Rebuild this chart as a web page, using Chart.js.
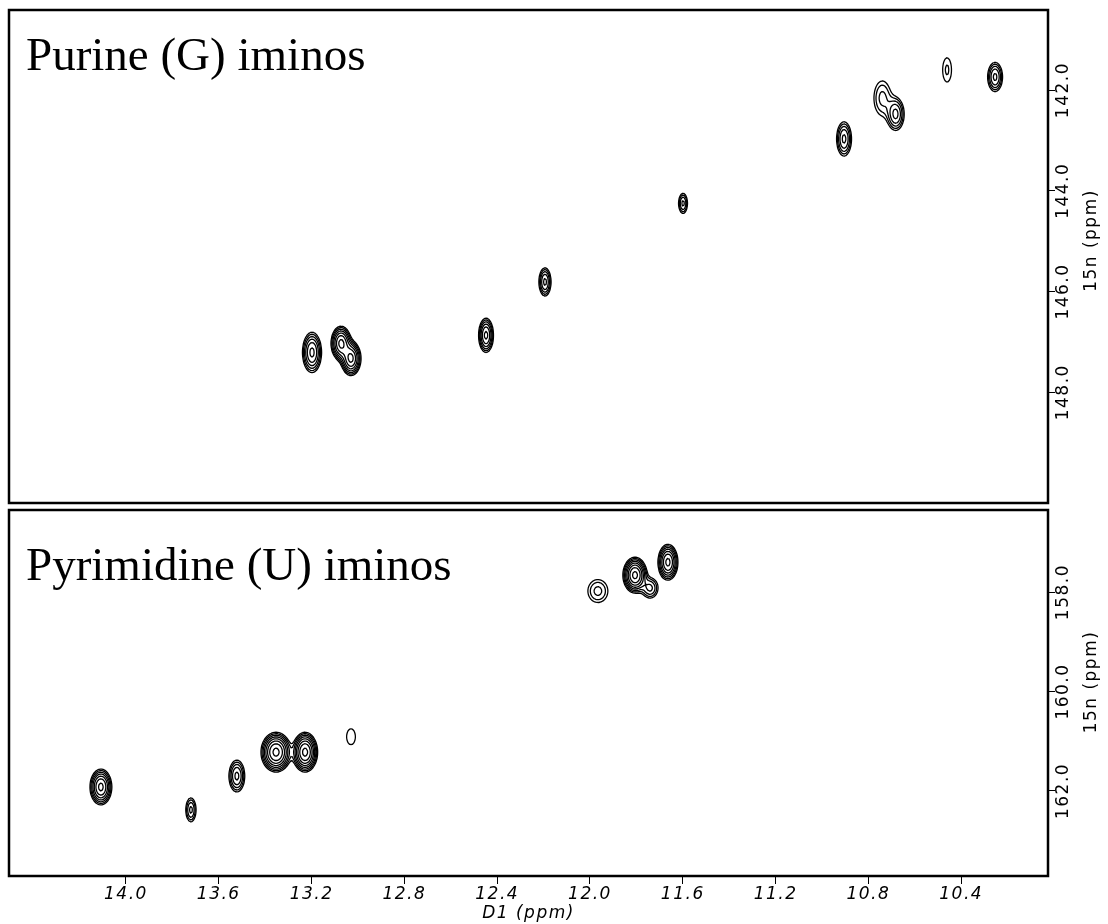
<!DOCTYPE html>
<html>
<head>
<meta charset="utf-8">
<script src="https://cdn.jsdelivr.net/npm/chart.js@4.4.1/dist/chart.umd.min.js"></script>
<style>
  body { margin: 0; background: #fff; }
  .panel { position: absolute; left: 0; width: 1108px; }
  canvas { display: block; }
</style>
</head>
<body>
<div class="panel" style="top:0;height:507px"><canvas id="purine" width="1108" height="507"></canvas></div>
<div class="panel" style="top:507px;height:417px"><canvas id="pyrimidine" width="1108" height="417"></canvas></div>

<script>
// ---- axis ticks ----
const ppmTicks = [14.0, 13.6, 13.2, 12.8, 12.4, 12.0, 11.6, 11.2, 10.8, 10.4];
const purineTicks = [142, 144, 146, 148];
const pyrimidineTicks = [158, 160, 162];

// ---- G iminos: 1H shift, 15N shift, half widths of lowest contour (ppm), intensity ----
const gH = [13.198, 13.073, 13.030, 12.448, 12.194, 11.599, 10.905, 10.740, 10.682, 10.461, 10.254];
const gN = [147.21, 147.03, 147.33, 146.87, 145.81, 144.25, 142.97, 142.16, 142.48, 141.60, 141.74];
const gWidthH = [0.041, 0.043, 0.043, 0.032, 0.026, 0.019, 0.032, 0.036, 0.036, 0.019, 0.032];
const gWidthN = [0.40, 0.34, 0.34, 0.34, 0.28, 0.20, 0.34, 0.34, 0.32, 0.24, 0.29];
const gHeight = [5.9, 8.3, 8.3, 5.9, 4.2, 3.0, 4.2, 2.2, 4.2, 1.5, 4.2];

// ---- U iminos ----
const uH = [14.108, 13.72, 13.522, 13.353, 13.228, 13.03, 11.966, 11.806, 11.664, 11.741];
const uN = [161.92, 162.38, 161.70, 161.22, 161.22, 160.91, 157.98, 157.66, 157.40, 157.92];
const uWidthH = [0.047, 0.022, 0.034, 0.065, 0.054, 0.019, 0.043, 0.052, 0.043, 0.034];
const uWidthN = [0.36, 0.24, 0.32, 0.40, 0.40, 0.16, 0.23, 0.36, 0.36, 0.20];
const uHeight = [8.3, 3.0, 4.2, 11.6, 11.6, 1.1, 2.2, 11.6, 8.3, 3.0];

// contour levels, lowest first (factor 1.4)
const contourLevels = [1, 1.4, 1.96, 2.74, 3.84, 5.38, 7.53, 10.5];

// ===================== CONTOURS =====================

// peak shapes in pixel space, lowest contour sitting at the listed half width
function peakShapes(chart, widthsH, widthsN, heights) {
  const xs = chart.scales.x, ys = chart.scales.y;
  return chart.data.datasets[0].data.map((p, i) => {
    const h = heights[i];
    const k = Math.sqrt(2 * Math.log(h));
    const cx = xs.getPixelForValue(p.x);
    const cy = ys.getPixelForValue(p.y);
    const sx = Math.abs(xs.getPixelForValue(p.x + widthsH[i]) - cx) / k;
    const sy = Math.abs(ys.getPixelForValue(p.y + widthsN[i]) - cy) / k;
    return { cx, cy, sx, sy, h };
  });
}

function drawContours(ctx, area, peaks) {
  const step = 1.5;
  const nx = Math.ceil((area.right - area.left) / step) + 1;
  const ny = Math.ceil((area.bottom - area.top) / step) + 1;
  const v = new Float32Array(nx * ny);

  for (let j = 0; j < ny; j++) {
    const py = area.top + j * step;
    for (let i = 0; i < nx; i++) {
      const px = area.left + i * step;
      let s = 0;
      for (const p of peaks) {
        const dx = (px - p.cx) / p.sx, dy = (py - p.cy) / p.sy;
        if (dx > 6 || dx < -6 || dy > 6 || dy < -6) continue;
        s += p.h * Math.exp(-0.5 * (dx * dx + dy * dy));
      }
      v[j * nx + i] = s;
    }
  }

  const lerp = (a, b, L) => (L - a) / (b - a);

  ctx.strokeStyle = "#000";
  ctx.lineWidth = 1.3;
  ctx.lineCap = "round";

  contourLevels.forEach(L => {
    ctx.beginPath();
    for (let j = 0; j < ny - 1; j++) {
      for (let i = 0; i < nx - 1; i++) {
        const a = v[j * nx + i], b = v[j * nx + i + 1];
        const c = v[(j + 1) * nx + i + 1], d = v[(j + 1) * nx + i];
        const idx = (a > L ? 8 : 0) | (b > L ? 4 : 0) | (c > L ? 2 : 0) | (d > L ? 1 : 0);
        if (idx === 0 || idx === 15) continue;

        const x0 = area.left + i * step, y0 = area.top + j * step;
        const T = () => [x0 + step * lerp(a, b, L), y0];
        const R = () => [x0 + step, y0 + step * lerp(b, c, L)];
        const B = () => [x0 + step * lerp(d, c, L), y0 + step];
        const Lf = () => [x0, y0 + step * lerp(a, d, L)];
        const seg = (p, q) => { ctx.moveTo(p[0], p[1]); ctx.lineTo(q[0], q[1]); };

        switch (idx) {
          case 1: case 14: seg(Lf(), B()); break;
          case 2: case 13: seg(B(), R()); break;
          case 3: case 12: seg(Lf(), R()); break;
          case 4: case 11: seg(T(), R()); break;
          case 6: case 9: seg(T(), B()); break;
          case 7: case 8: seg(Lf(), T()); break;
          case 5: seg(Lf(), T()); seg(B(), R()); break;
          case 10: seg(T(), R()); seg(Lf(), B()); break;
        }
      }
    }
    ctx.stroke();
  });
}

// ===================== PANEL =====================

function buildPanel(canvasId, opts) {
  const spectrum = {
    id: "spectrum",
    beforeDraw(chart) {
      chart.ctx.letterSpacing = "1.5px";
    },
    afterDatasetsDraw(chart) {
      const ctx = chart.ctx, area = chart.chartArea;
      ctx.save();
      ctx.beginPath();
      ctx.rect(area.left, area.top, area.right - area.left, area.bottom - area.top);
      ctx.clip();
      drawContours(ctx, area, peakShapes(chart, opts.widthH, opts.widthN, opts.height));
      ctx.restore();
    },
    afterDraw(chart) {
      const ctx = chart.ctx, area = chart.chartArea, ys = chart.scales.y;
      ctx.save();

      // frame
      ctx.strokeStyle = "#000";
      ctx.lineWidth = 2.5;
      ctx.strokeRect(area.left, area.top, area.right - area.left, area.bottom - area.top);

      // 15N tick labels, rotated
      ctx.fillStyle = "#000";
      ctx.textAlign = "center";
      ctx.textBaseline = "middle";
      ctx.letterSpacing = "1.5px";
      ctx.font = '17px "DejaVu Sans"';
      ys.ticks.forEach(t => {
        const y = ys.getPixelForValue(t.value);
        ctx.save();
        ctx.translate(area.right + 16, y);
        ctx.rotate(-Math.PI / 2);
        ctx.fillText(t.value.toFixed(1), 0, 0);
        ctx.restore();
      });

      // 15N axis title
      ctx.save();
      ctx.translate(area.right + 44, (area.top + area.bottom) / 2 + opts.titleShift);
      ctx.rotate(-Math.PI / 2);
      ctx.fillText("15n (ppm)", 0, 0);
      ctx.restore();

      // panel heading
      ctx.letterSpacing = "0px";
      ctx.textAlign = "left";
      ctx.textBaseline = "alphabetic";
      ctx.font = '47px "Liberation Serif"';
      ctx.fillText(opts.heading, 26, area.top + opts.headingOffset);

      ctx.restore();
      ctx.letterSpacing = "0px";
    }
  };

  const showX = opts.showX;

  return new Chart(document.getElementById(canvasId), {
    type: "scatter",
    data: {
      datasets: [{
        data: opts.h.map((h, i) => ({ x: h, y: opts.n[i] })),
        pointRadius: 0,
        pointHoverRadius: 0,
        borderColor: "#000",
        backgroundColor: "#000"
      }]
    },
    options: {
      responsive: false,
      devicePixelRatio: 1,
      animation: false,
      events: [],
      layout: { padding: opts.padding },
      plugins: { legend: { display: false }, tooltip: { enabled: false } },
      scales: {
        x: {
          type: "linear",
          position: "bottom",
          reverse: true,
          min: 10.026,
          max: 14.504,
          display: showX,
          afterBuildTicks: s => { s.ticks = ppmTicks.map(v => ({ value: v })); },
          afterFit: s => { s.height = showX ? 48 : 0; },
          ticks: {
            autoSkip: false,
            maxRotation: 0,
            padding: 0,
            color: "#000",
            font: { family: "DejaVu Sans", size: 17, style: "italic" },
            callback: v => v.toFixed(1)
          },
          grid: {
            drawOnChartArea: false,
            drawTicks: true,
            tickLength: 8,
            tickWidth: 1,
            tickColor: "#000"
          },
          border: { display: false },
          title: {
            display: true,
            text: "D1 (ppm)",
            color: "#000",
            padding: 0,
            font: { family: "DejaVu Sans", size: 17, style: "italic" }
          }
        },
        y: {
          type: "linear",
          position: "right",
          reverse: true,
          min: opts.yMin,
          max: opts.yMax,
          afterBuildTicks: s => { s.ticks = opts.yTicks.map(v => ({ value: v })); },
          afterFit: s => { s.width = 60; },
          ticks: { display: false },
          grid: {
            drawOnChartArea: false,
            drawTicks: true,
            tickLength: 7,
            tickWidth: 1,
            tickColor: "#000"
          },
          border: { display: false }
        }
      }
    },
    plugins: [spectrum]
  });
}

buildPanel("purine", {
  h: gH, n: gN, widthH: gWidthH, widthN: gWidthN, height: gHeight,
  yTicks: purineTicks, yMin: 140.41, yMax: 150.2,
  padding: { left: 9, top: 10, right: 0, bottom: 4 },
  showX: false,
  heading: "Purine (G) iminos",
  headingOffset: 60,
  titleShift: -16
});

buildPanel("pyrimidine", {
  h: uH, n: uN, widthH: uWidthH, widthN: uWidthN, height: uHeight,
  yTicks: pyrimidineTicks, yMin: 156.35, yMax: 163.71,
  padding: { left: 9, top: 3, right: 0, bottom: 0 },
  showX: true,
  heading: "Pyrimidine (U) iminos",
  headingOffset: 70,
  titleShift: -11
});
</script>
</body>
</html>
